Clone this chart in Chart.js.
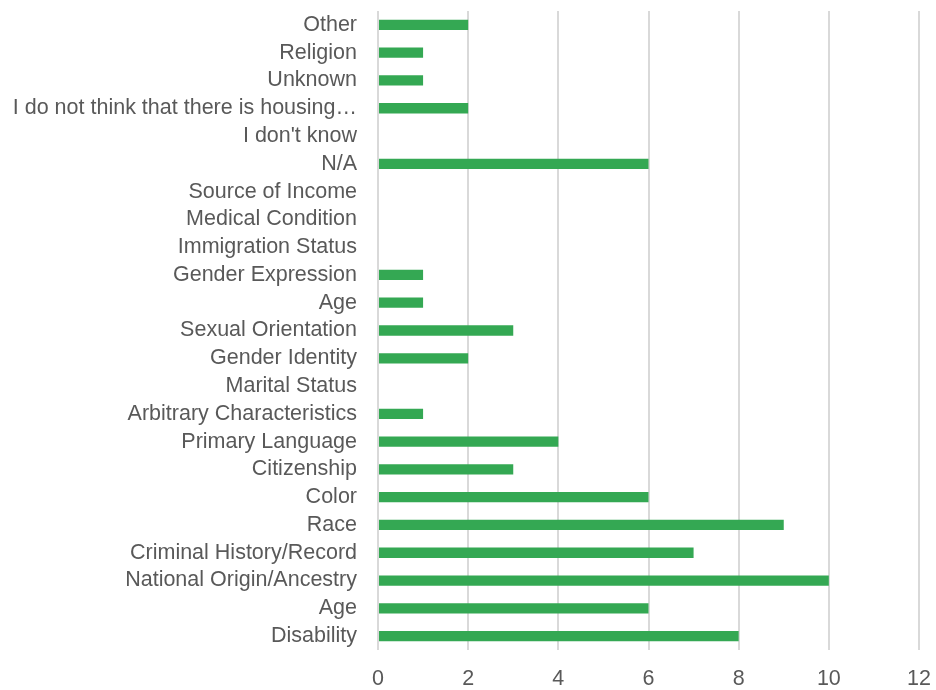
<!DOCTYPE html>
<html>
<head>
<meta charset="utf-8">
<script src="https://cdn.jsdelivr.net/npm/chart.js@4"></script>
<style>
  html, body { margin: 0; padding: 0; background: #fff; }
  #wrap { width: 936px; height: 690px; }
</style>
</head>
<body>
<div id="wrap"><canvas id="chart" width="936" height="690"></canvas></div>
<script>
// categories, top to bottom as in the picture
const categories = [
  'Other', 'Religion', 'Unknown', 'I do not think that there is housing\u2026',
  "I don't know", 'N/A', 'Source of Income', 'Medical Condition',
  'Immigration Status', 'Gender Expression', 'Age', 'Sexual Orientation',
  'Gender Identity', 'Marital Status', 'Arbitrary Characteristics',
  'Primary Language', 'Citizenship', 'Color', 'Race',
  'Criminal History/Record', 'National Origin/Ancestry', 'Age', 'Disability'
];
const counts = [2, 1, 1, 2, 0, 6, 0, 0, 0, 1, 1, 3, 2, 0, 1, 4, 3, 6, 9, 7, 10, 6, 8];
const xTicks = [0, 2, 4, 6, 8, 10, 12];

const FONT = "'Liberation Sans', Arial, sans-serif";

new Chart(document.getElementById('chart'), {
  type: 'bar',
  data: {
    labels: categories,
    datasets: [{
      data: counts,
      backgroundColor: '#34a853',
      borderWidth: 0,
      categoryPercentage: 1,
      barPercentage: 0.37
    }]
  },
  options: {
    indexAxis: 'y',
    responsive: false,
    animation: false,
    layout: { padding: { top: 11, right: 17, left: 0, bottom: 0 } },
    plugins: { legend: { display: false }, tooltip: { enabled: false } },
    scales: {
      x: {
        min: 0,
        max: 12,
        afterBuildTicks: (scale) => { scale.ticks = xTicks.map(v => ({ value: v })); },
        grid: { color: '#d9d9d9', lineWidth: 2, drawTicks: false },
        border: { display: false },
        ticks: { color: '#595959', font: { family: FONT, size: 21.5 }, padding: 16 },
        afterFit: (scale) => {
          scale.height = 40;
          scale.paddingLeft = 0;
          scale.paddingRight = 0;
        }
      },
      y: {
        grid: { display: false, drawTicks: false },
        border: { display: false },
        ticks: { color: '#595959', font: { family: FONT, size: 21.5 }, padding: 21, autoSkip: false },
        afterFit: (scale) => {
          scale.width = 378;
          scale.paddingTop = 0;
          scale.paddingBottom = 0;
        }
      }
    }
  }
});
</script>
</body>
</html>
